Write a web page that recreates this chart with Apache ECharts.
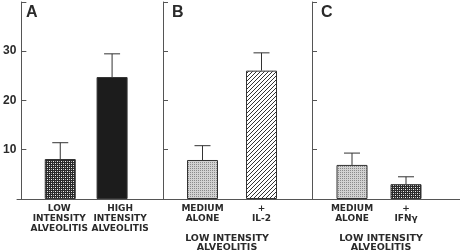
<!DOCTYPE html>
<html><head><meta charset="utf-8">
<script src="https://cdn.jsdelivr.net/npm/echarts@6/dist/echarts.min.js"></script>
<style>html,body{margin:0;padding:0;background:#fff}#c{width:460px;height:252px}</style>
</head><body><div id="c"></div>
<script>
const catsA = ['LOW\nINTENSITY\nALVEOLITIS', 'HIGH\nINTENSITY\nALVEOLITIS'];
const valsA = [8.1, 24.7];
const errTopA = [11.4, 29.4];
const catsB = ['MEDIUM\nALONE', '+\nIL-2'];
const valsB = [7.9, 26.0];
const errTopB = [10.8, 29.6];
const catsC = ['MEDIUM\nALONE', '+\nIFNγ'];
const valsC = [6.9, 3.0];
const errTopC = [9.3, 4.5];
const yTicks = [10, 20, 30];
const panelLetters = ['A', 'B', 'C'];
const groupLabel = 'LOW INTENSITY\nALVEOLITIS';

function pat(w, h, draw) {
  const c = document.createElement('canvas'); c.width = w; c.height = h;
  const g = c.getContext('2d'); draw(g); return {image: c, repeat: 'repeat'};
}
const checker = pat(4, 4, g => { g.fillStyle = '#2a2a2a'; g.fillRect(0,0,4,4); g.fillStyle = '#f0f0f0'; g.fillRect(1,1,1,1); g.fillRect(3,3,1,1); g.fillStyle='#aaa'; g.fillRect(3,1,1,1); g.fillRect(1,3,1,1);});
const solid = '#1c1c1c';
const stipple = pat(2, 2, g => { g.fillStyle = '#d2d2d2'; g.fillRect(0,0,2,2); g.fillStyle = '#8a8a8a'; g.fillRect(0,0,1,1); });
const hatch = pat(4, 4, g => { g.fillStyle = '#fff'; g.fillRect(0,0,4,4); g.fillStyle = '#333'; for (let i=0;i<4;i++){ g.fillRect(i,3-i,1,1);} });

const fills = [[checker, solid], [stipple, hatch], [stipple, checker]];
const cats = [catsA, catsB, catsC];
const vals = [valsA, valsB, valsC];
const errs = [errTopA, errTopB, errTopC];
const axisX = [17, 163, 312];
const gridLeft = [30, 173, 325];
const gridW = [108, 118, 108];
// label shifts (px) per panel/category, to match the reference's label placement
const labelPad = [[[0, 2, 0, 0], [0, 0, 0, 16]], [[0,0,0,0],[0,0,0,0]], [[0,0,0,0],[0,0,0,0]]];

const axisColor = '#555';
const txt = '#2a2a2a';
const lblFont = 'DejaVu Sans';
const grids = [], xAxes = [], yAxes = [], series = [], graphics = [];
for (let p = 0; p < 3; p++) {
  grids.push({left: gridLeft[p], width: gridW[p], top: 2, bottom: 53});
  xAxes.push({type: 'category', gridIndex: p,
    data: cats[p].map((c, i) => ({value: c, textStyle: {padding: labelPad[p][i]}})),
    axisLine: {show: false}, axisTick: {show: false},
    axisLabel: {fontFamily: lblFont, fontSize: 9, fontWeight: 'bold', color: txt, lineHeight: 10, margin: 5, interval: 0}});
  yAxes.push({type: 'value', gridIndex: p, min: 0, max: 39.9, interval: 10,
    offset: gridLeft[p] - axisX[p], splitLine: {show: false},
    axisLine: {show: true, lineStyle: {color: axisColor, width: 1}},
    axisTick: {show: true, inside: true, length: 5, lineStyle: {color: axisColor}},
    axisLabel: {show: p === 0, fontFamily: 'Liberation Sans', fontSize: 12, fontWeight: 'bold', color: txt, margin: 5,
      formatter: v => yTicks.includes(v) ? String(v) : ''}});
  series.push({type: 'bar', xAxisIndex: p, yAxisIndex: p, barWidth: 31,
    data: vals[p].map((v, i) => ({value: v, itemStyle: {color: fills[p][i], borderColor: '#333', borderWidth: 1}}))});
  const ep = errs[p], vp = vals[p];
  series.push({type: 'custom', xAxisIndex: p, yAxisIndex: p, z: 1,
    data: vp.map((v, i) => [i, v, ep[i]]),
    renderItem: (params, api) => {
      const a = api.coord([api.value(0), api.value(1)]);
      const b = api.coord([api.value(0), api.value(2)]);
      return {type: 'group', children: [
        {type: 'line', shape: {x1: a[0], y1: a[1], x2: b[0], y2: b[1]}, style: {stroke: '#333', lineWidth: 1}},
        {type: 'line', shape: {x1: b[0] - 8, y1: b[1], x2: b[0] + 8, y2: b[1]}, style: {stroke: '#333', lineWidth: 1}}
      ]};
    }});
  graphics.push({type: 'text', left: axisX[p] + 9, top: 5,
    style: {text: panelLetters[p], font: 'bold 16px "Liberation Sans"', fill: txt}});
}
// frame baseline
grids.push({left: 17, right: 0, top: 2, bottom: 53});
xAxes.push({type: 'value', gridIndex: 3, min: 0, max: 1, axisLine: {show: true, onZero: false, lineStyle: {color: axisColor}}, axisTick: {show: false}, axisLabel: {show: false}, splitLine: {show: false}});
yAxes.push({type: 'value', gridIndex: 3, min: 0, max: 1, show: false});
graphics.push({type: 'text', x: 227, y: 234, style: {text: groupLabel, font: 'bold 9.5px "DejaVu Sans"', fill: txt, align: 'center', lineHeight: 9}});
graphics.push({type: 'text', x: 381, y: 234, style: {text: groupLabel, font: 'bold 9.5px "DejaVu Sans"', fill: txt, align: 'center', lineHeight: 9}});

const chart = echarts.init(document.getElementById('c'), null, {renderer: 'canvas'});
chart.setOption({animation: false, grid: grids, xAxis: xAxes, yAxis: yAxes, series: series, graphic: graphics});
</script></body></html>
